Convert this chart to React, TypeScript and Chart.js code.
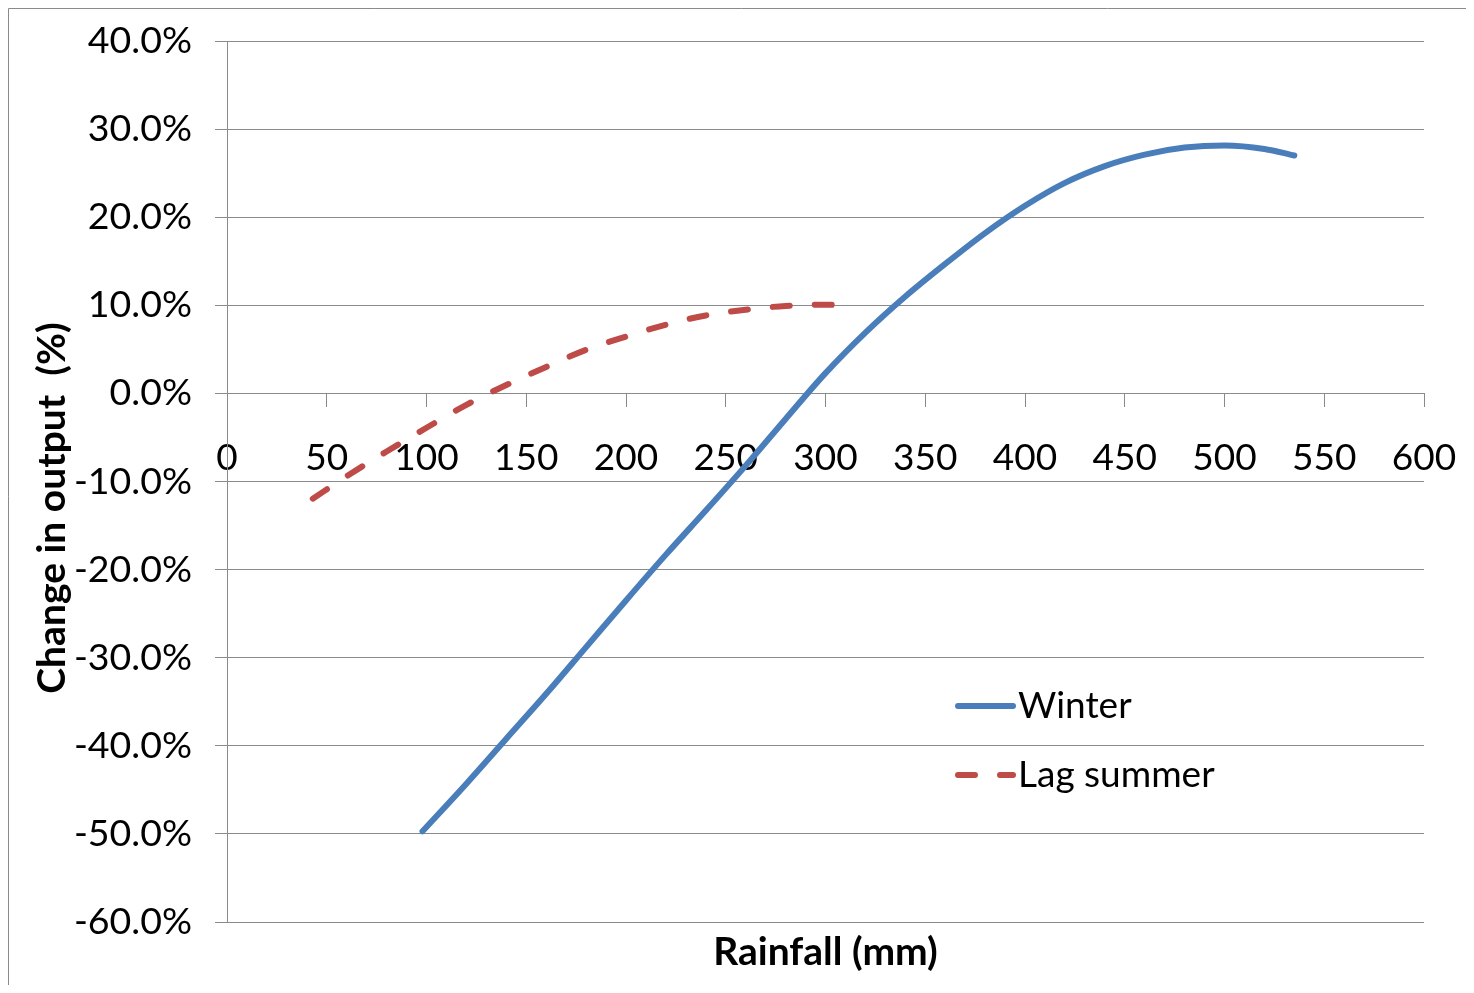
import { useEffect, useRef } from "react";
import { Chart, registerables } from "chart.js";

Chart.register(...registerables);

// ---- data ----
const winterRainfall = [98, 120, 140, 160, 180, 200, 220, 240, 260, 280, 300, 320, 340, 360, 380, 400, 420, 440, 460, 480, 500, 520, 535];
const winterChange = [-49.7, -44.3, -39.2, -34.1, -28.8, -23.5, -18.3, -13.3, -8.2, -2.9, 2.3, 6.9, 11.0, 14.7, 18.2, 21.3, 23.9, 25.8, 27.1, 27.9, 28.15, 27.75, 27.0];

const lagRainfall = [43, 60, 80, 100, 120, 140, 160, 180, 200, 220, 240, 260, 280, 300, 309];
const lagChange = [-11.95, -9.4, -6.6, -3.9, -1.3, 0.95, 3.0, 4.95, 6.45, 7.8, 8.85, 9.5, 9.93, 10.07, 10.0];

const seriesNames = ["Winter", "Lag summer"];
const xTitle = "Rainfall (mm)";
const yTitle = "Change in output  (%)";
const xMin = 0, xMax = 600, xStep = 50;
const yMin = -60, yMax = 40, yStep = 10;

const FONT = "Lato";
const GRID = "#8a8a8a";
const WINTER = "#4A7EBB";
const LAG = "#BE4B48";

export default function App() {
  const ref = useRef<HTMLCanvasElement>(null);

  useEffect(() => {
    const canvas = ref.current!;
    const decor = {
      id: "decor",
      beforeDraw(chart: any) {
        const ctx = chart.ctx;
        ctx.save();
        ctx.strokeStyle = GRID;
        ctx.lineWidth = 1;
        ctx.beginPath();
        ctx.moveTo(0.5, chart.height);
        ctx.lineTo(0.5, 0.5);
        ctx.lineTo(chart.width, 0.5);
        ctx.stroke();
        ctx.restore();
      },
      afterDatasetsDraw(chart: any) {
        const ctx = chart.ctx;
        const area = chart.chartArea;
        ctx.save();
        // legend
        const legendX = 950;
        const legendY = [698, 767];
        chart.data.datasets.forEach((ds: any, i: number) => {
          const y = legendY[i];
          ctx.strokeStyle = ds.borderColor;
          ctx.lineWidth = ds.borderWidth;
          ctx.lineCap = "round";
          ctx.setLineDash(ds.borderDash || []);
          ctx.beginPath();
          ctx.moveTo(legendX, y);
          ctx.lineTo(legendX + 55, y);
          ctx.stroke();
          ctx.setLineDash([]);
          ctx.fillStyle = "#000";
          ctx.font = `37px ${FONT}`;
          ctx.textAlign = "left";
          ctx.textBaseline = "middle";
          ctx.fillText(ds.label, legendX + 60, y);
        });
        // axis titles
        ctx.fillStyle = "#000";
        ctx.font = `bold 39px ${FONT}`;
        ctx.textAlign = "center";
        ctx.textBaseline = "alphabetic";
        ctx.fillText(xTitle, (area.left + area.right) / 2, 957);
        ctx.translate(57, 500);
        ctx.rotate(-Math.PI / 2);
        ctx.fillText(yTitle, 0, 0);
        ctx.restore();
      },
    };

    const chart = new Chart(canvas, {
      type: "scatter",
      data: {
        datasets: [
          {
            label: seriesNames[0],
            data: winterRainfall.map((x, i) => ({ x, y: winterChange[i] })),
            showLine: true,
            borderColor: WINTER,
            backgroundColor: WINTER,
            borderWidth: 6,
            borderCapStyle: "round",
            borderJoinStyle: "round",
            pointRadius: 0,
            cubicInterpolationMode: "monotone",
            fill: false,
          },
          {
            label: seriesNames[1],
            data: lagRainfall.map((x, i) => ({ x, y: lagChange[i] })),
            showLine: true,
            borderColor: LAG,
            backgroundColor: LAG,
            borderWidth: 6,
            borderDash: [17, 25],
            borderCapStyle: "round",
            borderJoinStyle: "round",
            pointRadius: 0,
            cubicInterpolationMode: "monotone",
            fill: false,
          },
        ],
      },
      options: {
        responsive: false,
        animation: false,
        devicePixelRatio: 1,
        layout: { padding: { left: 0, top: 33, right: 50, bottom: 63 } },
        plugins: {
          legend: { display: false },
          tooltip: { enabled: false },
        },
        scales: {
          x: {
            type: "linear",
            position: { y: 0 },
            min: xMin,
            max: xMax,
            ticks: {
              stepSize: xStep,
              color: "#000",
              font: { family: FONT, size: 37 },
              padding: 29,
              maxRotation: 0,
              autoSkip: false,
            },
            grid: {
              drawOnChartArea: false,
              drawTicks: true,
              tickLength: 13,
              color: GRID,
              tickColor: GRID,
            },
            border: { color: GRID, width: 1 },
            afterFit: (s: any) => {
              s.paddingLeft = 0;
              s.paddingRight = 0;
              s.paddingTop = 0;
              s.paddingBottom = 0;
            },
          },
          y: {
            type: "linear",
            min: yMin,
            max: yMax,
            ticks: {
              stepSize: yStep,
              color: "#000",
              font: { family: FONT, size: 37.5 },
              padding: 23,
              callback: (v: any) => `${Number(v).toFixed(1)}%`,
            },
            grid: { color: GRID, tickColor: GRID, tickLength: 12 },
            border: { color: GRID, width: 1 },
            afterFit: (s: any) => {
              s.width = 219;
              s.paddingTop = 0;
              s.paddingBottom = 0;
              s.paddingLeft = 0;
              s.paddingRight = 0;
            },
          },
        },
      } as any,
      plugins: [decor],
    });
    return () => chart.destroy();
  }, []);

  return <canvas ref={ref} width={1466} height={977} style={{ display: "block" }} />;
}
